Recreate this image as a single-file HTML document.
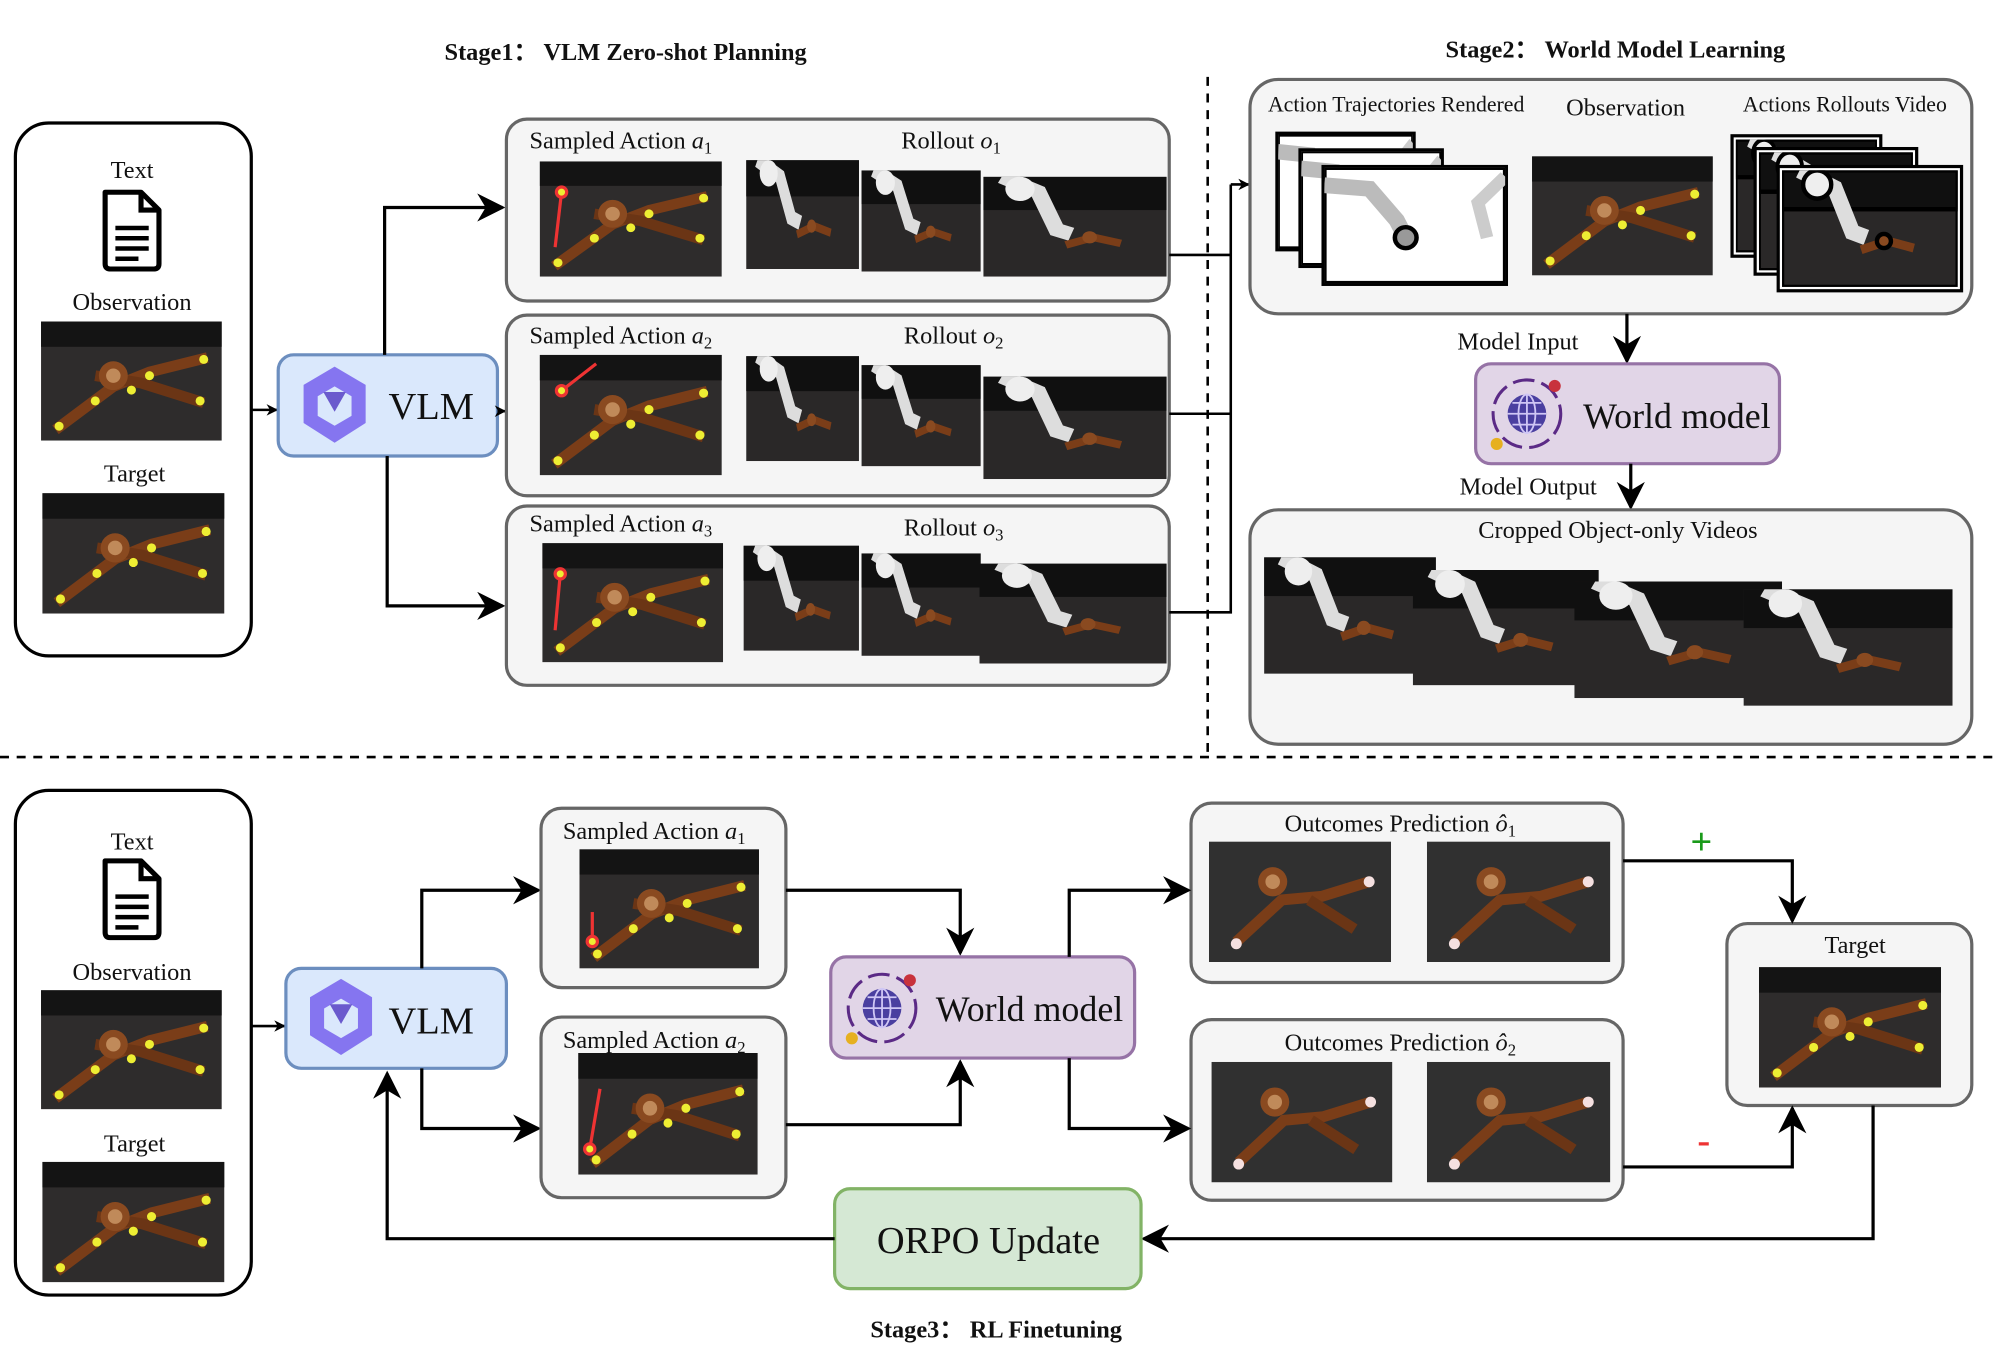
<!DOCTYPE html>
<html><head><meta charset="utf-8"><style>
html,body{margin:0;padding:0;background:#fff;}
svg{display:block;}
text{font-family:"Liberation Serif",serif;fill:#111;}
</style></head><body>
<svg width="2000" height="1345" viewBox="0 0 1560 1050" preserveAspectRatio="none" xmlns="http://www.w3.org/2000/svg">
<defs>
<marker id="ar" viewBox="0 0 10 10" refX="9" refY="5" markerWidth="9" markerHeight="9" orient="auto-start-reverse" markerUnits="userSpaceOnUse">
<path d="M0,0 L10,5 L0,10 L3,5z" fill="#000"/></marker>
<marker id="ar2" viewBox="0 0 10 10" refX="9" refY="5" markerWidth="22" markerHeight="22" orient="auto" markerUnits="userSpaceOnUse">
<path d="M0,0 L10,5 L0,10 L3,5z" fill="#000"/></marker>
<symbol id="m" viewBox="0 0 100 66" preserveAspectRatio="none">
<rect width="100" height="66" fill="#2e2c2c"/><rect width="100" height="14" fill="#141414"/>
<path d="M8,60 L40,36 L60,28 L92,20" stroke="#7a3d18" stroke-width="6" fill="none"/>
<path d="M30,30 L55,34 L90,45" stroke="#6b3515" stroke-width="6" fill="none"/>
<circle cx="40" cy="30" r="8" fill="#8a4a20"/><circle cx="40" cy="30" r="4" fill="#c08a5a"/>
<circle cx="10" cy="58" r="2.5" fill="#ee3"/><circle cx="30" cy="44" r="2.5" fill="#ee3"/><circle cx="60" cy="30" r="2.5" fill="#ee3"/><circle cx="88" cy="44" r="2.5" fill="#ee3"/><circle cx="90" cy="21" r="2.5" fill="#ee3"/><circle cx="50" cy="38" r="2.5" fill="#ee3"/>
</symbol>
<symbol id="r" viewBox="0 0 100 66" preserveAspectRatio="none">
<rect width="100" height="66" fill="#2a2828"/><rect width="100" height="22" fill="#101010"/>
<path d="M10,0 L30,10 L40,35 L48,38" stroke="#ddd" stroke-width="9" fill="none"/>
<circle cx="20" cy="8" r="8" fill="#eee"/>
<path d="M45,45 L60,40 L75,44" stroke="#7a3d18" stroke-width="5" fill="none"/><circle cx="58" cy="40" r="4" fill="#8a4a20"/>
</symbol>
<symbol id="w" viewBox="0 0 100 66" preserveAspectRatio="none">
<rect width="100" height="66" fill="#fff"/>
<path d="M0,10 L25,12 L40,30 L45,40" stroke="#bbb" stroke-width="9" fill="none"/><circle cx="45" cy="40" r="6" fill="#999"/>
<path d="M100,5 L85,20 L90,40" stroke="#ccc" stroke-width="7" fill="none"/>
</symbol>
<symbol id="b" viewBox="0 0 100 66" preserveAspectRatio="none">
<rect width="100" height="66" fill="#303030"/>
<path d="M15,55 L40,32 L62,30 L88,22" stroke="#7a3d18" stroke-width="6" fill="none"/>
<circle cx="35" cy="22" r="8" fill="#8a4a20"/><circle cx="35" cy="22" r="4" fill="#c08a5a"/>
<path d="M55,32 L80,48" stroke="#6b3515" stroke-width="6" fill="none"/>
<circle cx="15" cy="56" r="3" fill="#f5e0e0"/><circle cx="88" cy="22" r="3" fill="#f5e0e0"/>
</symbol>
<symbol id="doc" viewBox="0 0 50 64">
<path d="M4,2 H32 L46,16 V58 Q46,62 42,62 H8 Q4,62 4,58 Z" fill="#fff" stroke="#000" stroke-width="4" stroke-linejoin="round"/>
<path d="M32,2 V16 H46" fill="none" stroke="#000" stroke-width="4"/>
<path d="M12,30 H38 M12,38 H38 M12,46 H38 M12,54 H30" stroke="#000" stroke-width="3.5"/>
</symbol>
<symbol id="qw" viewBox="0 0 60 60">
<path d="M30,2 L52,15 L52,42 L30,56 L8,42 L8,15 Z" fill="#7b68ee" opacity="0.9"/>
<path d="M30,16 L42,23 L42,37 L30,44 L18,37 L18,23 Z" fill="#dae8fc"/>
<path d="M22,20 L38,20 L30,34 Z" fill="#6a5acd"/>
</symbol>
<symbol id="gl" viewBox="0 0 70 70">
<circle cx="35" cy="35" r="28" fill="none" stroke="#5b2a86" stroke-width="2.5" stroke-dasharray="18 6"/>
<circle cx="35" cy="35" r="16" fill="#4a3fa0"/>
<path d="M19,35 H51 M35,19 V51 M23,26 H47 M23,44 H47" stroke="#cfc6f5" stroke-width="1.5"/>
<ellipse cx="35" cy="35" rx="7" ry="16" fill="none" stroke="#cfc6f5" stroke-width="1.5"/>
<circle cx="58" cy="12" r="5" fill="#c8323c"/><circle cx="10" cy="60" r="5" fill="#e6b020"/>
</symbol>
</defs>

<g font-weight="bold" font-size="19">
<text x="488" y="47" text-anchor="middle">Stage1：  VLM Zero-shot Planning</text>
<text x="1260" y="45" text-anchor="middle">Stage2：  World Model Learning</text>
<text x="777" y="1044" text-anchor="middle">Stage3：  RL Finetuning</text>
</g>

<line x1="942" y1="60" x2="942" y2="588" stroke="#000" stroke-width="2" stroke-dasharray="7 6"/>
<line x1="0" y1="591" x2="1560" y2="591" stroke="#000" stroke-width="2" stroke-dasharray="7 6"/>

<!-- Stage1 input -->
<rect x="12" y="96" width="184" height="416" rx="26" fill="#fff" stroke="#000" stroke-width="2.5"/>
<rect x="12" y="617" width="184" height="394" rx="26" fill="#fff" stroke="#000" stroke-width="2.5"/>
<g font-size="19" text-anchor="middle">
<text x="103" y="139">Text</text><text x="103" y="242">Observation</text><text x="105" y="376">Target</text>
<text x="103" y="663">Text</text><text x="103" y="765">Observation</text><text x="105" y="899">Target</text>
</g>
<use href="#doc" x="78" y="148" width="50" height="64"/>
<use href="#m" x="32" y="251" width="141" height="93"/>
<use href="#m" x="33" y="385" width="142" height="94"/>

<line x1="196" y1="320" x2="216" y2="320" stroke="#000" stroke-width="2" marker-end="url(#ar)"/>
<rect x="217" y="277" width="171" height="79" rx="12" fill="#dae8fc" stroke="#6c8ebf" stroke-width="2.5"/>
<use href="#qw" x="228" y="284" width="66" height="66"/>
<text x="303" y="327" font-size="30">VLM</text>

<path d="M300,277 V162 H392" fill="none" stroke="#000" stroke-width="2.5" marker-end="url(#ar2)"/>
<path d="M302,356 V473 H392" fill="none" stroke="#000" stroke-width="2.5" marker-end="url(#ar2)"/>
<line x1="388" y1="321" x2="394" y2="321" stroke="#000" stroke-width="2" marker-end="url(#ar)"/>

<g fill="#f5f5f5" stroke="#666" stroke-width="2.5">
<rect x="395" y="93" width="517" height="142" rx="16"/>
<rect x="395" y="246" width="517" height="141" rx="16"/>
<rect x="395" y="395" width="517" height="140" rx="16"/>
</g>
<g font-size="19">
<text x="413" y="116">Sampled Action <tspan font-style="italic">a</tspan><tspan font-size="13" dy="4">1</tspan></text>
<text x="703" y="116">Rollout <tspan font-style="italic">o</tspan><tspan font-size="13" dy="4">1</tspan></text>
<text x="413" y="268">Sampled Action <tspan font-style="italic">a</tspan><tspan font-size="13" dy="4">2</tspan></text>
<text x="705" y="268">Rollout <tspan font-style="italic">o</tspan><tspan font-size="13" dy="4">2</tspan></text>
<text x="413" y="415">Sampled Action <tspan font-style="italic">a</tspan><tspan font-size="13" dy="4">3</tspan></text>
<text x="705" y="418">Rollout <tspan font-style="italic">o</tspan><tspan font-size="13" dy="4">3</tspan></text>
</g>
<use href="#m" x="421" y="126" width="142" height="90"/>
<use href="#r" x="582" y="125" width="88" height="85"/><use href="#r" x="672" y="133" width="93" height="79"/><use href="#r" x="767" y="138" width="143" height="78"/>
<use href="#m" x="421" y="277" width="142" height="94"/>
<use href="#r" x="582" y="278" width="88" height="82"/><use href="#r" x="672" y="285" width="93" height="79"/><use href="#r" x="767" y="294" width="143" height="80"/>
<use href="#m" x="423" y="424" width="141" height="93"/>
<use href="#r" x="580" y="426" width="90" height="82"/><use href="#r" x="672" y="432" width="93" height="80"/><use href="#r" x="764" y="440" width="146" height="78"/>
<g stroke="#e33" stroke-width="2.5" fill="none">
<line x1="438" y1="150" x2="433" y2="193"/><line x1="438" y1="305" x2="465" y2="284"/><line x1="437" y1="448" x2="433" y2="492"/>
<circle cx="438" cy="150" r="4" fill="#ee3"/><circle cx="438" cy="305" r="4" fill="#ee3"/><circle cx="437" cy="448" r="4" fill="#ee3"/>
</g>

<path d="M912,199 H960 M912,323 H960 M912,478 H960 V144" fill="none" stroke="#000" stroke-width="2"/>
<line x1="960" y1="144" x2="974" y2="144" stroke="#000" stroke-width="2" marker-end="url(#ar)"/>

<!-- Stage2 -->
<rect x="975" y="62" width="563" height="183" rx="22" fill="#f5f5f5" stroke="#666" stroke-width="2.5"/>
<g font-size="17" text-anchor="middle">
<text x="1089" y="87">Action Trajectories Rendered</text>
<text x="1268" y="90" font-size="19">Observation</text>
<text x="1439" y="87">Actions Rollouts Video</text>
</g>
<g stroke="#000" stroke-width="2.5">
<rect x="996" y="104" width="107" height="91" fill="#fff"/><use href="#w" x="997" y="105" width="105" height="89"/>
<rect x="1014" y="117" width="111" height="91" fill="#fff"/><use href="#w" x="1015" y="118" width="109" height="89"/>
<rect x="1032" y="130" width="143" height="92" fill="#fff"/><use href="#w" x="1033" y="131" width="141" height="90"/>
<rect x="1351" y="106" width="116" height="94" fill="#fff"/><use href="#r" x="1354" y="109" width="110" height="88"/>
<rect x="1369" y="116" width="126" height="98" fill="#fff"/><use href="#r" x="1372" y="119" width="120" height="92"/>
<rect x="1387" y="130" width="143" height="97" fill="#fff"/><use href="#r" x="1390" y="133" width="137" height="91"/>
</g>
<use href="#m" x="1195" y="122" width="141" height="93"/>

<text x="1184" y="273" font-size="19" text-anchor="middle">Model Input</text>
<line x1="1269" y1="245" x2="1269" y2="282" stroke="#000" stroke-width="2.5" marker-end="url(#ar2)"/>
<rect x="1151" y="284" width="237" height="78" rx="12" fill="#e1d5e7" stroke="#9673a6" stroke-width="2.5"/>
<use href="#gl" x="1158" y="290" width="66" height="66"/>
<text x="1308" y="334" font-size="28" text-anchor="middle">World model</text>
<text x="1192" y="386" font-size="19" text-anchor="middle">Model Output</text>
<line x1="1272" y1="362" x2="1272" y2="396" stroke="#000" stroke-width="2.5" marker-end="url(#ar2)"/>

<rect x="975" y="398" width="563" height="183" rx="22" fill="#f5f5f5" stroke="#666" stroke-width="2.5"/>
<text x="1262" y="420" font-size="19" text-anchor="middle">Cropped Object-only Videos</text>
<use href="#r" x="986" y="435" width="134" height="91"/>
<use href="#r" x="1102" y="445" width="145" height="90"/>
<use href="#r" x="1228" y="454" width="162" height="91"/>
<use href="#r" x="1360" y="460" width="163" height="91"/>

<!-- Stage3 -->
<use href="#doc" x="78" y="670" width="50" height="64"/>
<use href="#m" x="32" y="773" width="141" height="93"/>
<use href="#m" x="33" y="907" width="142" height="94"/>

<line x1="196" y1="801" x2="222" y2="801" stroke="#000" stroke-width="2" marker-end="url(#ar)"/>
<rect x="223" y="756" width="172" height="78" rx="12" fill="#dae8fc" stroke="#6c8ebf" stroke-width="2.5"/>
<use href="#qw" x="233" y="762" width="66" height="66"/>
<text x="303" y="807" font-size="30">VLM</text>

<path d="M329,756 V695 H420" fill="none" stroke="#000" stroke-width="2.5" marker-end="url(#ar2)"/>
<path d="M329,834 V881 H420" fill="none" stroke="#000" stroke-width="2.5" marker-end="url(#ar2)"/>

<g fill="#f5f5f5" stroke="#666" stroke-width="2.5">
<rect x="422" y="631" width="191" height="140" rx="16"/>
<rect x="422" y="794" width="191" height="141" rx="16"/>
<rect x="929" y="627" width="337" height="140" rx="16"/>
<rect x="929" y="796" width="337" height="141" rx="16"/>
<rect x="1347" y="721" width="191" height="142" rx="16"/>
</g>
<g font-size="19">
<text x="439" y="655">Sampled Action <tspan font-style="italic">a</tspan><tspan font-size="13" dy="4">1</tspan></text>
<text x="439" y="818">Sampled Action <tspan font-style="italic">a</tspan><tspan font-size="13" dy="4">2</tspan></text>
<text x="1002" y="649">Outcomes Prediction <tspan font-style="italic">ô</tspan><tspan font-size="13" dy="4">1</tspan></text>
<text x="1002" y="820">Outcomes Prediction <tspan font-style="italic">ô</tspan><tspan font-size="13" dy="4">2</tspan></text>
<text x="1447" y="744" text-anchor="middle">Target</text>
</g>
<use href="#m" x="452" y="663" width="140" height="93"/>
<use href="#m" x="451" y="822" width="140" height="95"/>
<g stroke="#e33" stroke-width="2.5" fill="none">
<line x1="462" y1="735" x2="462" y2="712"/><line x1="460" y1="897" x2="468" y2="850"/>
<circle cx="462" cy="735" r="4" fill="#ee3"/><circle cx="460" cy="897" r="4" fill="#ee3"/>
</g>
<use href="#b" x="943" y="657" width="142" height="94"/><use href="#b" x="1113" y="657" width="143" height="94"/>
<use href="#b" x="945" y="829" width="141" height="94"/><use href="#b" x="1113" y="829" width="143" height="94"/>
<use href="#m" x="1372" y="755" width="142" height="94"/>

<path d="M613,695 H749 V744" fill="none" stroke="#000" stroke-width="2.5" marker-end="url(#ar2)"/>
<path d="M613,878 H749 V829" fill="none" stroke="#000" stroke-width="2.5" marker-end="url(#ar2)"/>
<rect x="648" y="747" width="237" height="79" rx="12" fill="#e1d5e7" stroke="#9673a6" stroke-width="2.5"/>
<use href="#gl" x="655" y="754" width="66" height="66"/>
<text x="803" y="797" font-size="28" text-anchor="middle">World model</text>

<path d="M834,747 V695 H927" fill="none" stroke="#000" stroke-width="2.5" marker-end="url(#ar2)"/>
<path d="M834,826 V881 H927" fill="none" stroke="#000" stroke-width="2.5" marker-end="url(#ar2)"/>

<path d="M1266,672 H1398 V719" fill="none" stroke="#000" stroke-width="2.5" marker-end="url(#ar2)"/>
<path d="M1266,911 H1398 V865" fill="none" stroke="#000" stroke-width="2.5" marker-end="url(#ar2)"/>
<text x="1327" y="667" font-size="30" style="fill:#1a9a1a" text-anchor="middle" font-weight="bold">+</text>
<text x="1329" y="900" font-size="30" style="fill:#e33" text-anchor="middle" font-weight="bold">-</text>

<path d="M1461,863 V967 H892" fill="none" stroke="#000" stroke-width="2.5" marker-end="url(#ar2)"/>
<rect x="651" y="928" width="239" height="78" rx="12" fill="#d5e8d4" stroke="#82b366" stroke-width="2.5"/>
<text x="771" y="978" font-size="30" text-anchor="middle">ORPO Update</text>
<path d="M651,967 H302 V838" fill="none" stroke="#000" stroke-width="2.5" marker-end="url(#ar2)"/>
</svg>
</body></html>
